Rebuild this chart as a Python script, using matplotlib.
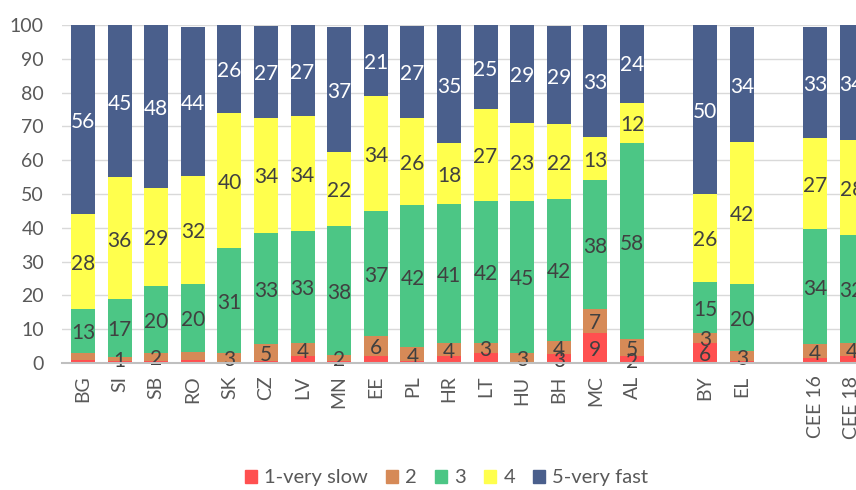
import numpy as np
import matplotlib
matplotlib.use("Agg")
import matplotlib.pyplot as plt
from matplotlib.patches import Patch

plt.rcParams["font.family"] = ["Lato", "DejaVu Sans"]

# categories, with a gap after AL and after EL
countries = ["BG", "SI", "SB", "RO", "SK", "CZ", "LV", "MN", "EE", "PL",
             "HR", "LT", "HU", "BH", "MC", "AL"]
others = ["BY", "EL"]
totals = ["CEE 16", "CEE 18"]
categories = countries + others + totals

very_slow = [1, 0.5, 0.7, 1, 0, 0.6, 2, 0.5, 2, 0.6, 2, 3, 0, 2.6, 9, 2, 6, 0.5, 1.5, 2]
slow = [2, 1.4, 2.2, 2.4, 3, 5, 4, 2, 6, 4, 4, 3, 3, 4, 7, 5, 3, 3, 4, 4]
medium = [13, 17, 20, 20, 31, 33, 33, 38, 37, 42, 41, 42, 45, 42, 38, 58, 15, 20, 34, 32]
fast = [28, 36, 29, 32, 40, 34, 34, 22, 34, 26, 18, 27, 23, 22, 13, 12, 26, 42, 27, 28]
very_fast = [56, 45, 48, 44, 26, 27, 27, 37, 21, 27, 35, 25, 29, 29, 33, 24, 50, 34, 33, 34]

series_names = ["1-very slow", "2", "3", "4", "5-very fast"]
colors = ["#FF5050", "#D68A57", "#4CC685", "#FFFF4D", "#4A5F8C"]
text_colors = ["#404040", "#404040", "#404040", "#404040", "white"]

# which small labels are shown
show_very_slow = {"BH", "MC", "AL", "BY"}
hide_slow = {"BG", "RO"}

# x positions: one empty slot between groups
x = np.concatenate([np.arange(len(countries)),
                    len(countries) + 1 + np.arange(len(others)),
                    len(countries) + len(others) + 2 + np.arange(len(totals))])

fig = plt.figure(figsize=(8.56, 4.90), dpi=100)
ax = fig.add_axes([62 / 856, 127 / 490, 1 - 62 / 856, 338 / 490])

data = [very_slow, slow, medium, fast, very_fast]
bottom = np.zeros(len(categories))
for i, vals in enumerate(data):
    vals = np.array(vals, dtype=float)
    ax.bar(x, vals, 0.66, bottom=bottom, color=colors[i], zorder=2)
    for j, v in enumerate(vals):
        cat = categories[j]
        if i == 0 and cat not in show_very_slow:
            continue
        if i == 1 and cat in hide_slow:
            continue
        ax.text(x[j], bottom[j] + v / 2 - 0.7, str(int(round(v))),
                ha="center", va="center", fontsize=15,
                color=text_colors[i], zorder=3)
    bottom += vals

ax.set_xlim(-0.574, 21.12)
ax.set_ylim(0, 100)
ax.set_yticks(range(0, 101, 10))
ax.set_xticks(x)
ax.set_xticklabels(categories, rotation=90)
ax.tick_params(axis="both", length=0, labelsize=14, colors="#595959")
ax.tick_params(axis="y", pad=13)
ax.tick_params(axis="x", pad=9)
ax.grid(axis="y", color="#D9D9D9", linewidth=1, zorder=0)
for s in ["top", "right", "left"]:
    ax.spines[s].set_visible(False)
ax.spines["bottom"].set_color("#BFBFBF")
ax.spines["bottom"].set_linewidth(1.5)
ax.spines["bottom"].set_zorder(4)

handles = [Patch(color=c, label=n) for c, n in zip(colors, series_names)]
fig.legend(handles=handles, loc="center", bbox_to_anchor=(0.522, 0.0245),
           ncol=5, frameon=False, fontsize=14.5, handlelength=0.6,
           handleheight=0.6, handletextpad=0.35, columnspacing=0.9,
           labelcolor="#595959", borderpad=0.2)

fig.savefig("out.png", dpi=100)
